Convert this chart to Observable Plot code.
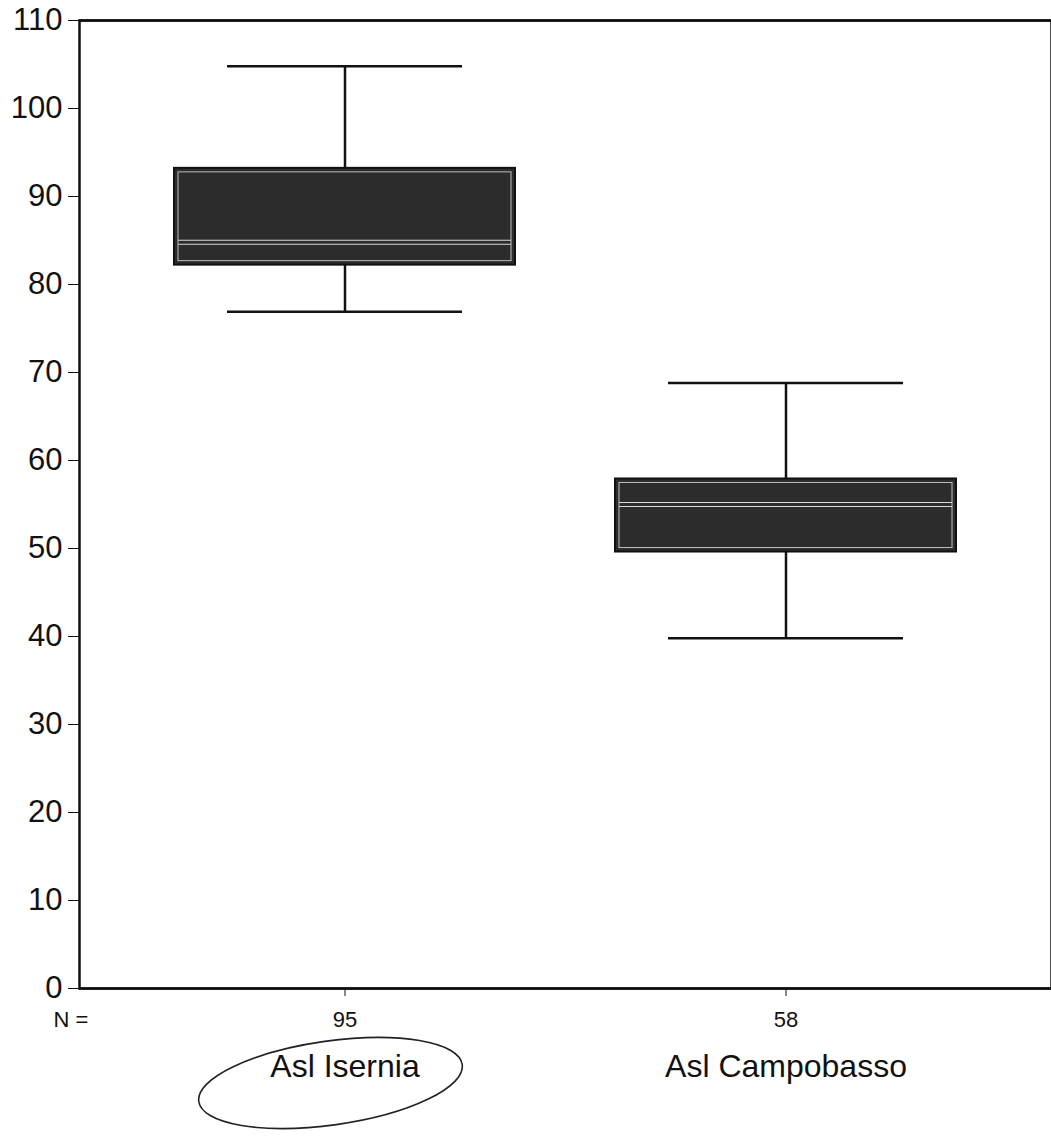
<!DOCTYPE html>
<html>
<head>
<meta charset="utf-8">
<script src="https://cdn.jsdelivr.net/npm/d3@7"></script>
<script src="https://cdn.jsdelivr.net/npm/@observablehq/plot@0.6"></script>
<style>
  html, body { margin: 0; padding: 0; background: #fff; }
  #chart svg { display: block; }
</style>
</head>
<body>
<div id="chart"></div>
<script>
// Box-plot summary for each health authority
const groups = ["Asl Isernia", "Asl Campobasso"];
const counts = [95, 58];
const lowWhisker = [76.9, 39.8];
const q1 = [82.2, 49.6];
const median = [84.8, 55.0];
const q3 = [93.2, 57.9];
const highWhisker = [104.8, 68.8];
const yTicks = [0, 10, 20, 30, 40, 50, 60, 70, 80, 90, 100, 110];

const rows = groups.map((g, i) => ({
  group: g,
  n: counts[i],
  lo: lowWhisker[i],
  q1: q1[i],
  med: median[i],
  q3: q3[i],
  hi: highWhisker[i]
}));

const plot = Plot.plot({
  width: 1051,
  height: 1138,
  marginTop: 20,
  marginBottom: 150,
  marginLeft: 79,
  marginRight: 0,
  style: { fontFamily: "'Liberation Sans', Arial, sans-serif", fontSize: "31px", color: "#111", background: "#fff" },
  x: {
    domain: groups,
    paddingInner: 0.226,
    paddingOuter: 0.215,
    tickSize: 8,
    tickFormat: () => "",
    label: null
  },
  y: {
    domain: [0, 110],
    ticks: yTicks,
    tickSize: 11,
    tickPadding: 6,
    label: null
  },
  marks: [
    // whiskers
    Plot.ruleX(rows, { x: "group", y1: "q3", y2: "hi", stroke: "#111", strokeWidth: 2.5 }),
    Plot.ruleX(rows, { x: "group", y1: "lo", y2: "q1", stroke: "#111", strokeWidth: 2.5 }),
    Plot.tickY(rows, { x: "group", y: "hi", stroke: "#111", strokeWidth: 2.5, inset: 53 }),
    Plot.tickY(rows, { x: "group", y: "lo", stroke: "#111", strokeWidth: 2.5, inset: 53 }),
    // interquartile boxes
    Plot.barY(rows, { x: "group", y1: "q1", y2: "q3", fill: "#2c2c2c", stroke: "#111", strokeWidth: 2 }),
    Plot.barY(rows, { x: "group", y1: "q1", y2: "q3", fill: "none", stroke: "#bdbdbd", strokeWidth: 1, inset: 4 }),
    // median drawn as a light double line
    Plot.tickY(rows, { x: "group", y: "med", stroke: "#d8d8d8", strokeWidth: 1.2, dy: -2, inset: 4 }),
    Plot.tickY(rows, { x: "group", y: "med", stroke: "#d8d8d8", strokeWidth: 1.2, dy: 2, inset: 4 }),
    // case counts and group names under the axis
    Plot.text(["N ="], { frameAnchor: "bottom-left", textAnchor: "start", lineAnchor: "middle", dx: -26, dy: 31, fontSize: 22, fill: "#111" }),
    Plot.text(rows, { x: "group", text: d => String(d.n), frameAnchor: "bottom", lineAnchor: "middle", dy: 31, fontSize: 22, fill: "#111" }),
    Plot.text(rows, { x: "group", text: "group", frameAnchor: "bottom", lineAnchor: "middle", dy: 78, fontSize: 32, fill: "#111" }),
    Plot.ruleY([0, 110], { stroke: "#111", strokeWidth: 2.5 }),
    Plot.frame({ stroke: "#111", strokeWidth: 2.5 })
  ]
});

document.getElementById("chart").appendChild(plot);

// hand-drawn circle around the first group's name
const svg = d3.select(plot);
const xs = plot.scale("x");
const cx = xs.apply(groups[0]) + xs.bandwidth / 2 - 14;
const cy = 1083;
svg.append("ellipse")
  .attr("cx", cx)
  .attr("cy", cy)
  .attr("rx", 133)
  .attr("ry", 42)
  .attr("transform", `rotate(-8 ${cx} ${cy})`)
  .attr("fill", "none")
  .attr("stroke", "#222")
  .attr("stroke-width", 1.6);
</script>
</body>
</html>
